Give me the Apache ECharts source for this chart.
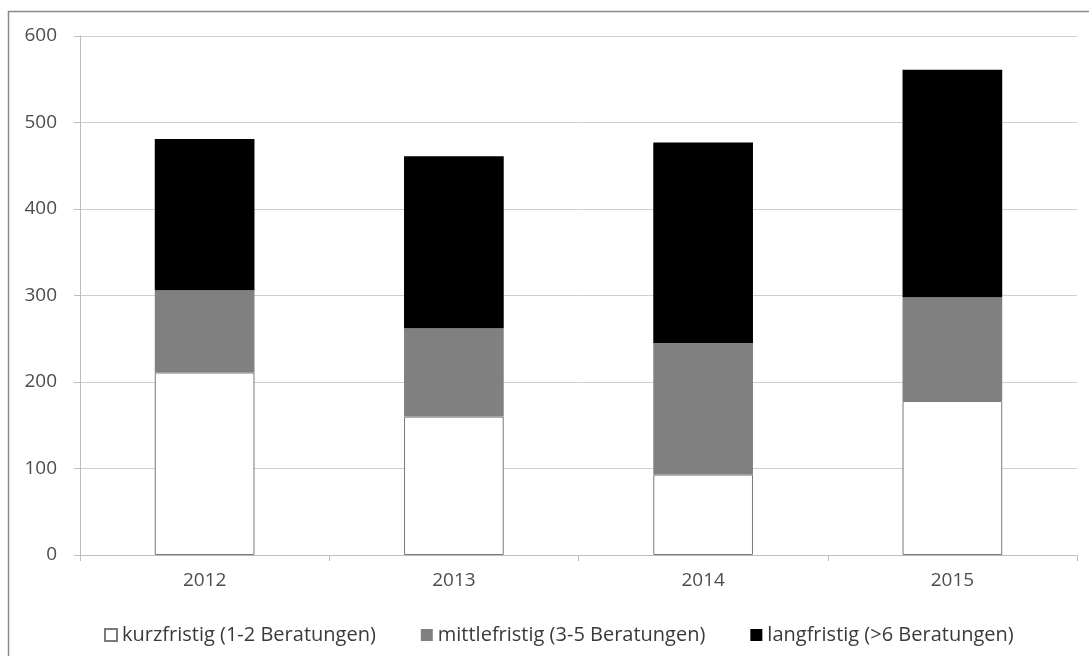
<!DOCTYPE html>
<html>
<head>
<meta charset="utf-8">
<script src="https://cdn.jsdelivr.net/npm/echarts@6/dist/echarts.min.js"></script>
<style>
  html, body { margin: 0; padding: 0; background: #fff; }
  #main { width: 1089px; height: 656px; }
</style>
</head>
<body>
<div id="main"></div>
<script>
// Jahre und Anzahl der Beratungsfälle
var years = ['2012', '2013', '2014', '2015'];
var kurzfristig = [211, 160, 93, 178];
var mittlefristig = [95, 102, 152, 120];
var langfristig = [175, 199, 232, 263];
var seriesNames = ['kurzfristig (1-2 Beratungen)', 'mittlefristig (3-5 Beratungen)', 'langfristig (>6 Beratungen)'];

var fontName = '"Open Sans", sans-serif';
var chart = echarts.init(document.getElementById('main'));

var option = {
  backgroundColor: '#fff',
  animation: false,
  textStyle: { fontFamily: fontName },
  graphic: [{
    type: 'rect',
    shape: { x: 8.5, y: 11.5, width: 1200, height: 1000 },
    style: { fill: 'none', stroke: '#8a8a8a', lineWidth: 1.5 },
    silent: true
  }],
  grid: { left: 80, right: 12, top: 36, bottom: 101 },
  legend: {
    top: 620,
    left: 99,
    itemWidth: 12,
    itemHeight: 12,
    itemGap: 45,
    icon: 'rect',
    textStyle: { fontFamily: fontName, fontSize: 20, color: '#3a3a3a' },
    data: seriesNames
  },
  xAxis: {
    type: 'category',
    data: years,
    axisLine: { lineStyle: { color: '#bdbdbd', width: 1 } },
    axisTick: { show: true, length: 6, lineStyle: { color: '#bdbdbd' } },
    axisLabel: { color: '#4d4d4d', fontSize: 19, margin: 16, fontFamily: fontName }
  },
  yAxis: {
    type: 'value',
    min: 0,
    max: 600,
    interval: 100,
    axisLine: { show: true, lineStyle: { color: '#bdbdbd', width: 1 } },
    axisTick: { show: true, length: 6, lineStyle: { color: '#bdbdbd' } },
    axisLabel: { color: '#4d4d4d', fontSize: 19, margin: 23, fontFamily: fontName },
    splitLine: { lineStyle: { color: '#cfcfcf', width: 1 } }
  },
  series: [
    {
      name: seriesNames[0],
      type: 'bar',
      stack: 'gesamt',
      barWidth: '40%',
      data: kurzfristig,
      itemStyle: { color: '#ffffff', borderColor: '#7a7a7a', borderWidth: 1 }
    },
    {
      name: seriesNames[1],
      type: 'bar',
      stack: 'gesamt',
      barWidth: '40%',
      data: mittlefristig,
      itemStyle: { color: '#808080' }
    },
    {
      name: seriesNames[2],
      type: 'bar',
      stack: 'gesamt',
      barWidth: '40%',
      data: langfristig,
      itemStyle: { color: '#000000' }
    }
  ]
};

chart.setOption(option);
</script>
</body>
</html>
